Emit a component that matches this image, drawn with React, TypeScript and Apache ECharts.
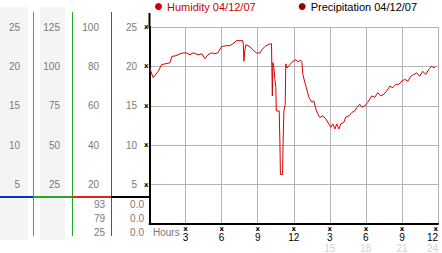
import React, { useEffect, useRef } from "react";
import * as echarts from "echarts";

// Hours since midnight (04/12/07)
const hours = [
  0, 0.12, 0.29, 0.46, 0.71, 1.01, 1.37, 1.7, 1.87, 2.2, 2.53, 2.78, 3.03, 3.2, 3.37, 3.62, 3.86, 4.03, 4.36,
  4.61, 4.86, 5.17, 5.44, 5.69, 6.0, 6.36, 6.69, 6.94, 7.25, 7.52, 7.75, 7.81, 7.85, 7.94, 8.02, 8.18, 8.35,
  8.6, 8.91, 9.18, 9.35, 9.6, 9.85, 10.07, 10.15, 10.18, 10.22, 10.26, 10.35, 10.43, 10.51, 10.55, 10.79,
  10.85, 10.89, 11.07, 11.11, 11.18, 11.29, 11.34, 11.43, 11.68, 11.93, 12.17, 12.34, 12.59, 12.67, 12.76,
  12.92, 13.09, 13.26, 13.51, 13.67, 13.84, 14.01, 14.17, 14.42, 14.67, 14.92, 15.08, 15.25, 15.42, 15.58,
  15.75, 15.91, 16.16, 16.33, 16.58, 16.83, 17.08, 17.24, 17.49, 17.66, 17.91, 18.16, 18.49, 18.74, 18.99,
  19.24, 19.49, 19.74, 19.99, 20.24, 20.49, 20.74, 20.99, 21.24, 21.49, 21.74, 21.99, 22.23, 22.48, 22.73,
  22.98, 23.23, 23.48, 23.65, 23.81,
];

// Relative humidity, %
const humidity = [
  79.2, 77.4, 74.4, 75.4, 77.4, 80.9, 81.4, 81.8, 85.1, 85.4, 86.4, 86.8, 86.9, 86.4, 85.9, 86.9, 86.4, 85.9,
  86.4, 83.9, 85.9, 86.9, 86.4, 86.9, 90.1, 90.5, 90.5, 91.5, 93.1, 93.1, 93.1, 91.0, 82.6, 88.4, 91.0, 90.5,
  90.1, 88.4, 86.8, 86.8, 88.4, 90.1, 91.0, 91.5, 91.5, 79.4, 65.0, 81.9, 79.4, 73.4, 69.2, 57.4, 57.4, 40.7,
  25.1, 25.1, 40.7, 57.4, 60.8, 81.3, 79.2, 80.9, 82.6, 83.4, 82.4, 83.1, 82.6, 75.9, 71.9, 68.3, 64.3, 61.8,
  62.5, 58.3, 55.8, 54.1, 54.9, 53.3, 50.8, 49.1, 50.8, 48.2, 50.8, 48.2, 50.8, 51.6, 54.3, 54.9, 56.6, 57.4,
  59.1, 60.8, 59.3, 59.9, 61.8, 65.0, 64.3, 66.7, 65.0, 65.8, 67.5, 70.0, 69.2, 70.9, 70.9, 72.5, 73.4, 72.5,
  75.0, 75.9, 76.7, 75.0, 77.5, 75.9, 78.4, 80.1, 79.3, 79.9,
];

// Precipitation, inches (none recorded)
const precipitation: number[] = [];

const legendNames = ["Humidity 04/12/07", "Precipitation 04/12/07"];
const humidityStats = ["93", "79", "25"];
const precipStats = ["0.0", "0.0", "0.0"];

const FONT = "Liberation Sans";
const GRAY = "#7a7a7a";
const MARK = "x";

export default function App() {
  const ref = useRef<HTMLDivElement>(null);
  useEffect(() => {
    if (!ref.current) return;
    const chart = echarts.init(ref.current, undefined, { renderer: "svg" });

    const panelAxis = (max: number, interval: number, offset: number) => ({
      type: "value",
      position: "left",
      min: 0,
      max,
      interval,
      offset,
      axisLine: { show: false },
      axisTick: { show: false },
      splitLine: { show: false },
      axisLabel: {
        margin: 0,
        color: GRAY,
        fontSize: 10,
        fontFamily: FONT,
        formatter: (v: number) => (v === 0 ? "" : String(v)),
      },
    });

    const statTexts: any[] = [];
    const statYs = [204, 218, 232];
    humidityStats.forEach((s, i) =>
      statTexts.push({
        type: "text",
        x: 105,
        y: statYs[i],
        style: { text: s, fill: GRAY, font: `10px ${FONT}`, textAlign: "right", textVerticalAlign: "middle" },
      })
    );
    precipStats.forEach((s, i) =>
      statTexts.push({
        type: "text",
        x: 144,
        y: statYs[i],
        style: { text: s, fill: GRAY, font: `10px ${FONT}`, textAlign: "right", textVerticalAlign: "middle" },
      })
    );

    const option: any = {
      animation: false,
      backgroundColor: "#fff",
      grid: { left: 149.5, right: 4, top: 27, bottom: 27, containLabel: false },
      legend: {
        left: 155,
        top: 1,
        padding: 0,
        itemWidth: 7,
        itemHeight: 7,
        itemGap: 43,
        icon: "circle",
        selectedMode: false,
        textStyle: { fontFamily: FONT, fontSize: 11 },
        data: [
          { name: legendNames[0], textStyle: { color: "#cc0000" } },
          { name: legendNames[1], textStyle: { color: "#000" } },
        ],
      },
      xAxis: {
        type: "value",
        min: 0,
        max: 24,
        interval: 3,
        axisLine: { lineStyle: { color: "#000", width: 2 } },
        axisTick: { show: false },
        splitLine: { show: true, lineStyle: { color: "#b4b4b4", width: 1 } },
        axisLabel: {
          margin: 2,
          alignMaxLabel: "right",
          formatter: (v: number) => {
            if (v === 0) return "";
            const h = v > 12 ? v - 12 : v;
            return `{m|${MARK}}\n{n|${h}}` + (v > 12 ? `\n{g|${v}}` : "");
          },
          rich: {
            m: { fontSize: 7, lineHeight: 6, color: "#000", fontFamily: "DejaVu Sans", fontWeight: "bold" },
            n: { fontSize: 10, lineHeight: 10, color: "#000", fontFamily: FONT },
            g: { fontSize: 10, lineHeight: 12, color: "#d0d0d0", fontFamily: FONT },
          },
        },
      },
      yAxis: [
        {
          type: "value",
          position: "left",
          min: 0,
          max: 100,
          interval: 20,
          axisLine: { show: true, lineStyle: { color: "#000", width: 2 } },
          axisTick: { show: false },
          splitLine: { show: true, lineStyle: { color: "#b4b4b4", width: 1 } },
          axisLabel: {
            margin: 1,
            fontSize: 7,
            fontWeight: "bold",
            color: "#000",
            fontFamily: "DejaVu Sans",
            formatter: (v: number) => (v === 0 ? "" : MARK),
          },
        },
        panelAxis(25, 5, 12.5),
        panelAxis(100, 20, 50.5),
        panelAxis(125, 25, 89.5),
        panelAxis(25, 5, 129.5),
      ],
      series: [
        {
          name: legendNames[0],
          type: "line",
          xAxisIndex: 0,
          yAxisIndex: 0,
          showSymbol: false,
          color: "#cc0000",
          lineStyle: { color: "#d40000", width: 1 },
          data: hours.map((t, i) => [t, humidity[i]]),
        },
        {
          name: legendNames[1],
          type: "line",
          xAxisIndex: 0,
          yAxisIndex: 0,
          showSymbol: false,
          color: "#990000",
          lineStyle: { color: "#990000", width: 1 },
          data: precipitation.map((p, i) => [hours[i], p]),
        },
      ],
      graphic: [
        { type: "rect", z: -10, shape: { x: 0, y: 7, width: 28, height: 233 }, style: { fill: "#f4f4f4" } },
        { type: "rect", z: -10, shape: { x: 40, y: 7, width: 25, height: 233 }, style: { fill: "#f4f4f4" } },
        { type: "line", shape: { x1: 33.5, y1: 12, x2: 33.5, y2: 236 }, style: { stroke: "#2a9ad8", lineWidth: 1 } },
        { type: "line", shape: { x1: 72.5, y1: 12, x2: 72.5, y2: 236 }, style: { stroke: "#22aa22", lineWidth: 1 } },
        { type: "line", shape: { x1: 111.5, y1: 12, x2: 111.5, y2: 236 }, style: { stroke: "#cc2222", lineWidth: 1 } },
        { type: "line", shape: { x1: 0, y1: 197, x2: 33, y2: 197 }, style: { stroke: "#0033cc", lineWidth: 2 } },
        { type: "line", shape: { x1: 33, y1: 197, x2: 72, y2: 197 }, style: { stroke: "#22aa22", lineWidth: 2 } },
        { type: "line", shape: { x1: 72, y1: 197, x2: 111, y2: 197 }, style: { stroke: "#dd2222", lineWidth: 2 } },
        { type: "line", shape: { x1: 111, y1: 197, x2: 149, y2: 197 }, style: { stroke: "#000", lineWidth: 2 } },
        { type: "line", shape: { x1: 149.5, y1: 13, x2: 149.5, y2: 28 }, style: { stroke: "#000", lineWidth: 2 } },
        {
          type: "text",
          x: 153,
          y: 232,
          style: { text: "Hours", fill: "#777", font: `10px ${FONT}`, textVerticalAlign: "middle" },
        },
        ...statTexts,
      ],
    };

    chart.setOption(option);
    return () => chart.dispose();
  }, []);

  return <div ref={ref} style={{ position: "absolute", left: 0, top: 0, width: 442, height: 253 }} />;
}
